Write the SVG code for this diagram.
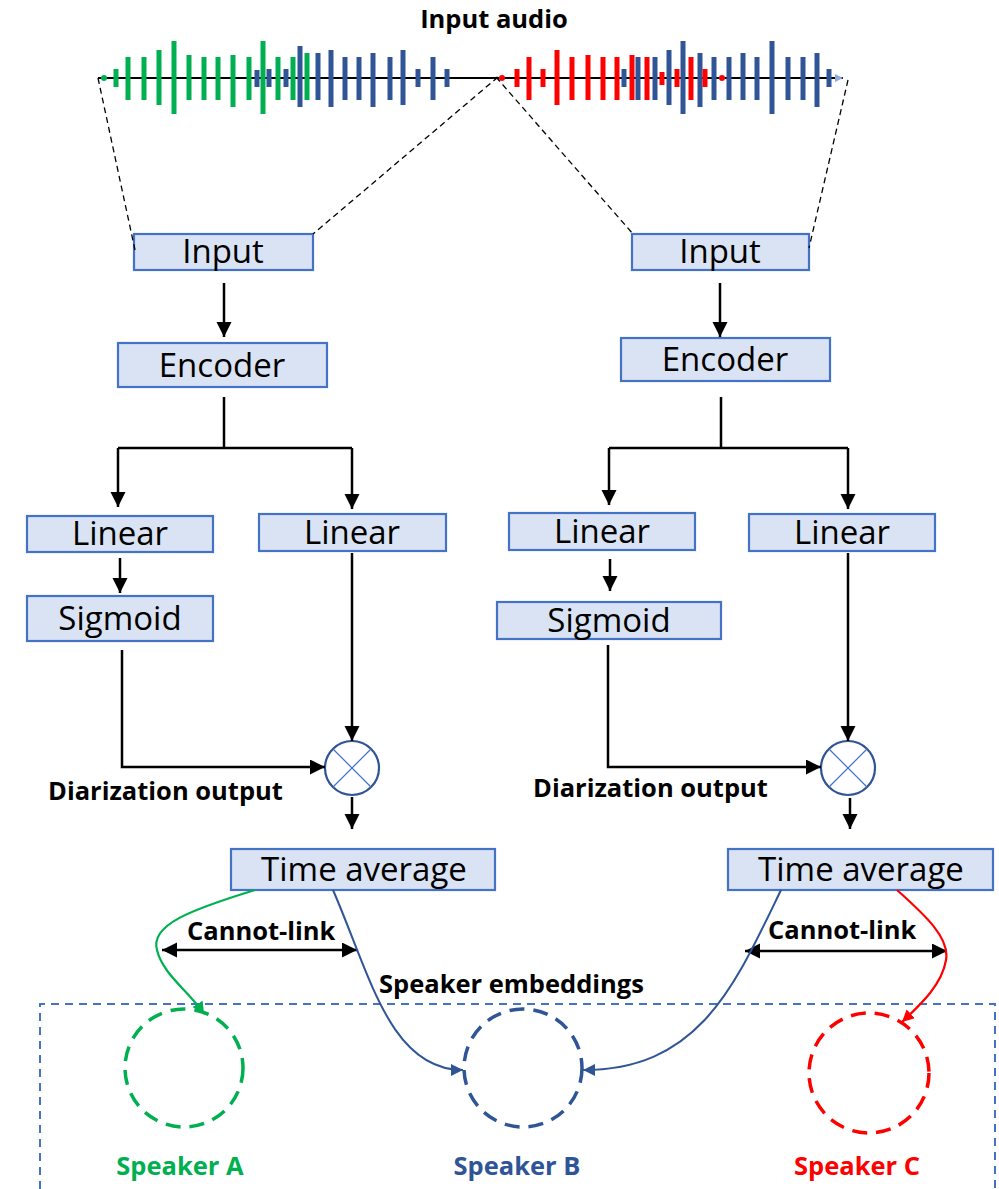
<svg xmlns="http://www.w3.org/2000/svg" width="999" height="1189" viewBox="0 0 999 1189">
<style>
.box{fill:#DAE3F3;stroke:#4472C4;stroke-width:2.2}
.bt{font-family:"Open Sans","Liberation Sans",sans-serif;font-size:33px;fill:#000;text-anchor:middle}
.lb{font-family:"Open Sans","Liberation Sans",sans-serif;font-size:25.5px;font-weight:bold;fill:#000}
.ln{fill:none;stroke:#000;stroke-width:2.5}
.ar{fill:none;stroke:#000;stroke-width:2.5;marker-end:url(#ab)}
.dsh{fill:none;stroke:#000;stroke-width:1.3;stroke-dasharray:6 4}
.wg{stroke:#00B050;stroke-width:5}
.wb{stroke:#2F5597;stroke-width:5}
.wr{stroke:#FF0000;stroke-width:5}
.mul{fill:#fff;stroke:#2F5597;stroke-width:2.2}
.mx{stroke:#4472C4;stroke-width:1.2}
.spk{fill:none;stroke-width:3.5;stroke-dasharray:15 9}
</style>
<defs>
<marker id="ab" markerUnits="userSpaceOnUse" markerWidth="16" markerHeight="16" refX="15" refY="7.5" orient="auto-start-reverse"><path d="M0,0 L15,7.5 L0,15 z" fill="#000"/></marker>
<marker id="ag" markerUnits="userSpaceOnUse" markerWidth="14" markerHeight="14" refX="12" refY="6" orient="auto"><path d="M0,0 L12,6 L0,12 z" fill="#00B050"/></marker>
<marker id="abl" markerUnits="userSpaceOnUse" markerWidth="14" markerHeight="14" refX="12" refY="6" orient="auto"><path d="M0,0 L12,6 L0,12 z" fill="#2F5597"/></marker>
<marker id="ar" markerUnits="userSpaceOnUse" markerWidth="14" markerHeight="14" refX="12" refY="6" orient="auto"><path d="M0,0 L12,6 L0,12 z" fill="#FF0000"/></marker>
<marker id="alb" markerUnits="userSpaceOnUse" markerWidth="10" markerHeight="10" refX="8" refY="4" orient="auto"><path d="M0,0 L8,4 L0,8 z" fill="#8FAADC"/></marker>
</defs>

<g id="input-audio">
<text class="lb" x="494" y="28" text-anchor="middle">Input audio</text>
<line x1="98" y1="78" x2="843" y2="78" stroke="#000" stroke-width="2.2" marker-end="url(#alb)"/>
<circle cx="104" cy="78" r="3" fill="#00B050"/>
<line class="wg" x1="116" y1="69" x2="116" y2="87"/>
<line class="wg" x1="128" y1="57" x2="128" y2="100"/>
<line class="wg" x1="144" y1="57" x2="144" y2="100"/>
<line class="wg" x1="159" y1="50" x2="159" y2="105"/>
<line class="wg" x1="174" y1="41" x2="174" y2="114"/>
<line class="wg" x1="189" y1="55" x2="189" y2="100"/>
<line class="wg" x1="204" y1="57" x2="204" y2="100"/>
<line class="wg" x1="218" y1="57" x2="218" y2="100"/>
<line class="wg" x1="233" y1="55" x2="233" y2="107"/>
<line class="wg" x1="249" y1="57" x2="249" y2="100"/>
<line class="wb" x1="257" y1="70" x2="257" y2="87"/>
<line class="wg" x1="263" y1="41" x2="263" y2="114"/>
<line class="wb" x1="269" y1="69" x2="269" y2="87"/>
<line class="wg" x1="278" y1="57" x2="278" y2="100"/>
<line class="wb" x1="286" y1="69" x2="286" y2="87"/>
<line class="wg" x1="293" y1="57" x2="293" y2="100"/>
<line class="wb" x1="300" y1="46" x2="300" y2="107"/>
<line class="wg" x1="307" y1="53" x2="307" y2="100"/>
<line class="wb" x1="318" y1="53" x2="318" y2="100"/>
<line class="wb" x1="331" y1="50" x2="331" y2="107"/>
<line class="wb" x1="345" y1="57" x2="345" y2="100"/>
<line class="wb" x1="359" y1="57" x2="359" y2="100"/>
<line class="wb" x1="373" y1="53" x2="373" y2="107"/>
<line class="wb" x1="390" y1="57" x2="390" y2="100"/>
<line class="wb" x1="403" y1="50" x2="403" y2="105"/>
<line class="wb" x1="418" y1="69" x2="418" y2="87"/>
<line class="wb" x1="433" y1="57" x2="433" y2="100"/>
<line class="wb" x1="447" y1="69" x2="447" y2="87"/>
<circle cx="502" cy="78" r="3" fill="#FF0000"/>
<line class="wr" x1="517" y1="69" x2="517" y2="87"/>
<line class="wr" x1="529" y1="57" x2="529" y2="100"/>
<line class="wr" x1="543" y1="69" x2="543" y2="87"/>
<line class="wr" x1="557" y1="50" x2="557" y2="105"/>
<line class="wr" x1="572" y1="57" x2="572" y2="100"/>
<line class="wr" x1="588" y1="55" x2="588" y2="100"/>
<line class="wr" x1="603" y1="57" x2="603" y2="100"/>
<line class="wr" x1="617" y1="57" x2="617" y2="100"/>
<line class="wb" x1="624" y1="69" x2="624" y2="87"/>
<line class="wr" x1="632" y1="55" x2="632" y2="100"/>
<line class="wb" x1="638" y1="57" x2="638" y2="100"/>
<line class="wr" x1="647" y1="57" x2="647" y2="100"/>
<line class="wb" x1="655" y1="57" x2="655" y2="100"/>
<line class="wr" x1="662" y1="72" x2="662" y2="85"/>
<line class="wb" x1="669" y1="50" x2="669" y2="105"/>
<line class="wr" x1="677" y1="69" x2="677" y2="87"/>
<line class="wb" x1="683" y1="41" x2="683" y2="114"/>
<line class="wr" x1="691" y1="57" x2="691" y2="100"/>
<line class="wb" x1="700" y1="53" x2="700" y2="107"/>
<line class="wr" x1="705" y1="69" x2="705" y2="87"/>
<line class="wb" x1="714" y1="57" x2="714" y2="100"/>
<circle cx="722" cy="78" r="3" fill="#FF0000"/>
<line class="wb" x1="729" y1="57" x2="729" y2="100"/>
<line class="wb" x1="743" y1="53" x2="743" y2="100"/>
<line class="wb" x1="757" y1="57" x2="757" y2="100"/>
<line class="wb" x1="772" y1="41" x2="772" y2="114"/>
<line class="wb" x1="788" y1="57" x2="788" y2="100"/>
<line class="wb" x1="803" y1="57" x2="803" y2="100"/>
<line class="wb" x1="817" y1="53" x2="817" y2="107"/>
<line class="wb" x1="829" y1="69" x2="829" y2="87"/>
</g>

<g id="input-left"><rect class="box" x="134" y="234" width="179" height="36"/><text class="bt" x="223" y="263">Input</text></g>
<g id="encoder-left"><rect class="box" x="118" y="343" width="209" height="44"/><text class="bt" x="222" y="377">Encoder</text></g>
<g id="linear-left-a"><rect class="box" x="27" y="516" width="186" height="36"/><text class="bt" x="120" y="545">Linear</text></g>
<g id="linear-left-b"><rect class="box" x="259" y="514" width="187" height="37"/><text class="bt" x="352" y="544">Linear</text></g>
<g id="sigmoid-left"><rect class="box" x="27" y="596" width="186" height="45"/><text class="bt" x="120" y="630">Sigmoid</text></g>
<g id="mul-left"><circle class="mul" cx="352" cy="768" r="27"/><line class="mx" x1="333" y1="749" x2="371" y2="787"/><line class="mx" x1="371" y1="749" x2="333" y2="787"/></g>
<g id="timeavg-left"><rect class="box" x="231" y="849" width="264" height="41"/><text class="bt" x="364" y="881">Time average</text></g>

<g id="input-right"><rect class="box" x="632" y="234" width="177" height="36"/><text class="bt" x="720" y="263">Input</text></g>
<g id="encoder-right"><rect class="box" x="621" y="338" width="209" height="43"/><text class="bt" x="725" y="371">Encoder</text></g>
<g id="linear-right-a"><rect class="box" x="509" y="513" width="186" height="37"/><text class="bt" x="602" y="543">Linear</text></g>
<g id="linear-right-b"><rect class="box" x="749" y="514" width="186" height="37"/><text class="bt" x="842" y="544">Linear</text></g>
<g id="sigmoid-right"><rect class="box" x="497" y="602" width="224" height="37"/><text class="bt" x="609" y="632">Sigmoid</text></g>
<g id="mul-right"><circle class="mul" cx="848" cy="768" r="27"/><line class="mx" x1="829" y1="749" x2="867" y2="787"/><line class="mx" x1="867" y1="749" x2="829" y2="787"/></g>
<g id="timeavg-right"><rect class="box" x="728" y="849" width="265" height="41"/><text class="bt" x="861" y="881">Time average</text></g>

<g id="labels">
<text class="lb" x="48" y="800">Diarization output</text>
<text class="lb" x="533" y="797">Diarization output</text>
<text class="lb" x="187" y="940">Cannot-link</text>
<text class="lb" x="768" y="939">Cannot-link</text>
<text class="lb" x="379" y="993">Speaker embeddings</text>
</g>

<g id="speakers">
<path d="M40,1189 V1004 H995 V1189" fill="none" stroke="#4472C4" stroke-width="2" stroke-dasharray="8 6"/>
<g id="speaker-a"><circle class="spk" cx="184" cy="1068" r="59" stroke="#00B050"/><text class="lb" x="180" y="1175" text-anchor="middle" style="fill:#00B050">Speaker A</text></g>
<g id="speaker-b"><circle class="spk" cx="523" cy="1068" r="59" stroke="#2F5597"/><text class="lb" x="517" y="1175" text-anchor="middle" style="fill:#2F5597">Speaker B</text></g>
<g id="speaker-c"><circle class="spk" cx="869" cy="1073" r="60" stroke="#FF0000"/><text class="lb" x="857" y="1175" text-anchor="middle" style="fill:#FF0000">Speaker C</text></g>
</g>

<g id="connectors">
<line class="dsh" x1="98" y1="78" x2="135" y2="250"/>
<line class="dsh" x1="498" y1="77" x2="313" y2="234"/>
<line class="dsh" x1="496" y1="77" x2="633" y2="234"/>
<line class="dsh" x1="848" y1="80" x2="809" y2="248"/>

<path class="ar" d="M224,283 V337"/>
<path class="ln" d="M224,397 V448 M118,448 H352"/>
<path class="ar" d="M118,448 V507"/>
<path class="ar" d="M352,448 V509"/>
<path class="ar" d="M120,558 V593"/>
<path class="ar" d="M352,553 V741"/>
<path class="ar" d="M122,650 V767 H325"/>
<path class="ar" d="M352,797 V829"/>

<path class="ar" d="M720,283 V337"/>
<path class="ln" d="M721,397 V448 M609,448 H848"/>
<path class="ar" d="M609,448 V505"/>
<path class="ar" d="M848,448 V509"/>
<path class="ar" d="M610,559 V591"/>
<path class="ar" d="M848,553 V741"/>
<path class="ar" d="M608,645 V767 H821"/>
<path class="ar" d="M850,798 V829"/>

<path d="M162,950 H357" fill="none" stroke="#000" stroke-width="2.5" marker-start="url(#ab)" marker-end="url(#ab)"/>
<path d="M745,951 H947" fill="none" stroke="#000" stroke-width="2.5" marker-start="url(#ab)" marker-end="url(#ab)"/>

<path d="M255,890 C190,910 150,925 157,950 C163,975 190,992 204,1014" fill="none" stroke="#00B050" stroke-width="2.2" marker-end="url(#ag)"/>
<path d="M333,890 C370,975 390,1070 463,1070" fill="none" stroke="#2F5597" stroke-width="2" marker-end="url(#abl)"/>
<path d="M781,890 C735,985 700,1070 583,1070" fill="none" stroke="#2F5597" stroke-width="2" marker-end="url(#abl)"/>
<path d="M897,890 C925,915 950,938 946,960 C942,985 920,1005 902,1022" fill="none" stroke="#FF0000" stroke-width="2.2" marker-end="url(#ar)"/>
</g>
</svg>
